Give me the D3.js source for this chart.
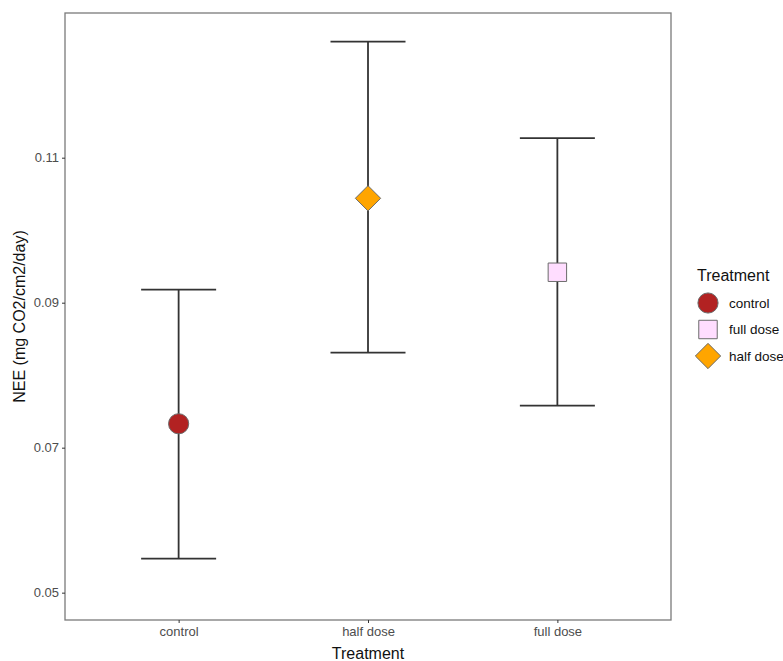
<!DOCTYPE html>
<html><head><meta charset="utf-8">
<script src="https://cdn.jsdelivr.net/npm/d3@7"></script>
<style>body{margin:0;background:#fff}svg{display:block;font-family:Arial,"Liberation Sans",sans-serif}</style>
</head><body>
<svg id="c" width="783" height="661"></svg>
<script>
const categories = ["control", "half dose", "full dose"];
const means = [0.0733, 0.1044, 0.0942];
const lower = [0.0547, 0.0831, 0.0758];
const upper = [0.0918, 0.1260, 0.1127];
const yTicks = [0.05, 0.07, 0.09, 0.11];
const legendLabels = ["control", "full dose", "half dose"];
const colors = {"control":"#B22222", "full dose":"#FFDDFF", "half dose":"#FFA500"};

const diamond = {draw(ctx, size){ const r = Math.sqrt(size / 2); ctx.moveTo(0,-r); ctx.lineTo(r,0); ctx.lineTo(0,r); ctx.lineTo(-r,0); ctx.closePath(); }};
const shapes = {"control":d3.symbolCircle, "full dose":d3.symbolSquare, "half dose":diamond};

const svg = d3.select("#c");
const L = 65, R = 671, T = 13, B = 620;
const x = d3.scalePoint().domain(categories).range([L, R]).padding(0.6);
const y = d3.scaleLinear().domain([0.04623, 0.12996]).range([B, T]);

// border
svg.append("rect").attr("x", L).attr("y", T).attr("width", R - L).attr("height", B - T)
  .attr("fill", "none").attr("stroke", "#7a7a7a").attr("stroke-width", 1.3);

// y axis
const ya = svg.append("g").attr("transform", `translate(${L},0)`)
  .call(d3.axisLeft(y).tickValues(yTicks).tickFormat(d3.format(".2f")).tickSizeOuter(0).tickSize(3).tickPadding(3));
ya.select(".domain").remove();
ya.selectAll("line").attr("stroke", "#333");
ya.selectAll("text").attr("fill", "#4D4D4D").style("font-size", "13px");

// x axis
const xa = svg.append("g").attr("transform", `translate(0,${B})`)
  .call(d3.axisBottom(x).tickSizeOuter(0).tickSize(3).tickPadding(4));
xa.select(".domain").remove();
xa.selectAll("line").attr("stroke", "#333");
xa.selectAll("text").attr("fill", "#4D4D4D").style("font-size", "13px");

// titles
svg.append("text").attr("x", (L + R) / 2).attr("y", 659).attr("text-anchor", "middle")
  .style("font-size", "16px").attr("fill", "#111").text("Treatment");
svg.append("text").attr("transform", `translate(25,${(T + B) / 2}) rotate(-90)`).attr("text-anchor", "middle")
  .style("font-size", "16px").attr("fill", "#111").text("NEE (mg CO2/cm2/day)");

// error bars
const hw = 37.5;
const g = svg.append("g");
categories.forEach((c, i) => {
  const cx = x(c);
  g.append("line").attr("x1", cx).attr("x2", cx).attr("y1", y(lower[i])).attr("y2", y(upper[i]))
    .attr("stroke", "#333").attr("stroke-width", 1.8);
  [lower[i], upper[i]].forEach(v => {
    g.append("line").attr("x1", cx - hw).attr("x2", cx + hw).attr("y1", y(v)).attr("y2", y(v))
      .attr("stroke", "#333").attr("stroke-width", 1.8);
  });
});
// points
const sizes = {"control": 320, "full dose": 340, "half dose": 320};
categories.forEach((c, i) => {
  svg.append("path").attr("d", d3.symbol().type(shapes[c]).size(sizes[c])())
    .attr("transform", `translate(${x(c)},${y(means[i])})`)
    .attr("fill", colors[c]).attr("stroke", "#6b6b6b").attr("stroke-width", 1);
});

// legend
const lg = svg.append("g");
lg.append("text").attr("x", 697).attr("y", 281).style("font-size", "16px").attr("fill", "#111").text("Treatment");
legendLabels.forEach((c, i) => {
  const cy = 303 + i * 26.5;
  lg.append("path").attr("d", d3.symbol().type(shapes[c]).size(sizes[c])())
    .attr("transform", `translate(708,${cy})`).attr("fill", colors[c]).attr("stroke", "#6b6b6b").attr("stroke-width", 1);
  lg.append("text").attr("x", 729).attr("y", cy + 4.5).style("font-size", "13.5px").attr("fill", "#111").text(c);
});
</script>
</body></html>
